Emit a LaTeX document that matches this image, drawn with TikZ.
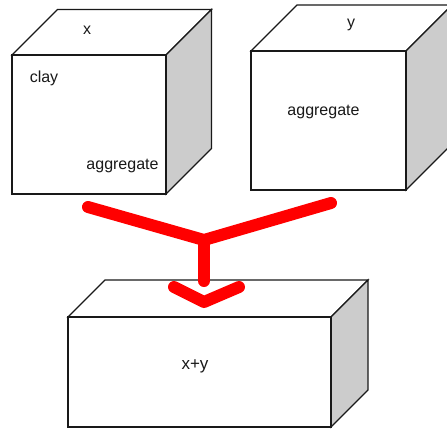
\documentclass[tikz,border=0pt]{standalone}
\usepackage{fontspec}
\setmainfont{Liberation Sans}
\usetikzlibrary{calc}
\definecolor{sideface}{gray}{0.80}
\definecolor{mixred}{RGB}{255,0,0}
% \cuboid{name}{left}{top}{right}{bottom}{depth}: a box seen from the front,
% with its top face and a shaded right face receding up and to the right
\newcommand\cuboid[6]{%
  \coordinate (#1-fl) at (#2,#5);
  \coordinate (#1-tl) at (#2,#3);
  \coordinate (#1-tr) at (#4,#3);
  \coordinate (#1-br) at (#4,#5);
  \coordinate (#1-btl) at ($(#1-tl)+(#6,-#6)$);
  \coordinate (#1-btr) at ($(#1-tr)+(#6,-#6)$);
  \coordinate (#1-bbr) at ($(#1-br)+(#6,-#6)$);
  \draw[edge, fill=white] (#1-tl) -- (#1-btl) -- (#1-btr) -- (#1-tr) -- cycle;
  \draw[edge, fill=sideface] (#1-tr) -- (#1-btr) -- (#1-bbr) -- (#1-br) -- cycle;
  \draw[edge, fill=white] (#1-fl) rectangle (#1-tr);
}
\begin{document}
\begin{tikzpicture}[x=1pt, y=-1pt,
    edge/.style={draw=black!90, line width=1.2pt, line join=miter},
    label/.style={font=\fontsize{16}{18}\selectfont, inner sep=0pt, text=black!90},
    flow/.style={draw=mixred, line width=12pt, line cap=round, line join=round}]
  \useasboundingbox (0,0) rectangle (447,429);

  % the two input blocks and the mixed block
  \cuboid{cx}{12}{55}{166}{194}{45.5}
  \cuboid{cy}{251}{51}{406}{190}{46}
  \cuboid{cm}{68}{317}{331}{427}{37}

  % labels
  \node[label] (lx) at (87,30) {x};
  \node[label] (lclay) at (44,78) {clay};
  \node[label] (lagx) at (122.5,166) {aggregate};
  \node[label] (ly) at (351,25) {y};
  \node[label] (lagy) at (323.5,112) {aggregate};
  \node[label, font=\fontsize{17}{19}\selectfont] (lxy) at (195,366) {x+y};

  % merging arrow
  \coordinate (fa) at (88,207);
  \coordinate (fb) at (331,203);
  \coordinate (fj) at (204,240);
  \coordinate (fd) at (204,281);
  \coordinate (cl) at (174,287);
  \coordinate (ct) at (204,302);
  \coordinate (cr) at (239,287);
  \draw[flow] (fa) -- (fj) -- (fb);
  \draw[flow] (fj) -- (fd);
  \draw[flow] (cl) -- (ct) -- (cr);
\end{tikzpicture}
\end{document}
